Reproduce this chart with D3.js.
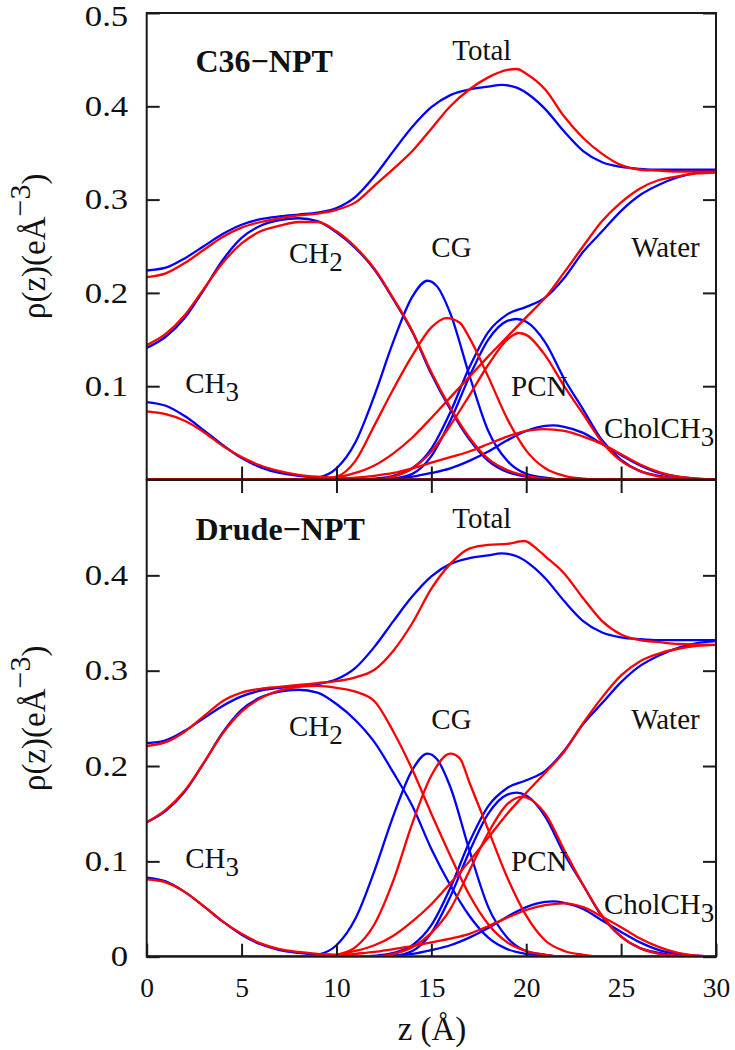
<!DOCTYPE html>
<html>
<head>
<meta charset="utf-8">
<script src="https://cdn.jsdelivr.net/npm/d3@7"></script>
<style>
  html, body { margin: 0; padding: 0; background: #fff; }
  svg { display: block; font-family: "Liberation Serif", "Times New Roman", serif; }
</style>
</head>
<body>
<svg id="chart" width="735" height="1050"></svg>
<script>
// ---------- Data: [z (Å), rho (e/Å^3)] ----------
// Reference curves (blue, identical in both panels)
const blueTotal = [[0,.224],[1,.227],[2,.237],[3,.250],[4,.263],[5,.273],[6,.279],[7,.282],[8,.284],[9,.286],[10,.291],[11,.303],[12,.325],[13,.352],[14,.378],[15,.399],[16,.412],[17,.418],[18,.421],[18.7,.423],[19.5,.420],[20.3,.410],[21,.397],[22,.373],[23,.352],[24,.340],[25,.335],[26,.333],[27,.332],[30,.332]];
const blueCH2 = [[0,.141],[1,.153],[2,.173],[3,.203],[4,.235],[5,.259],[6,.272],[7,.278],[8,.280],[9,.277],[10,.265],[11,.248],[12,.225],[13,.193],[14,.158],[15,.113],[16,.075],[17,.043],[18,.020],[19,.008],[20,.003],[21,.001],[22,0],[30,0]];
const blueCH3 = [[0,.083],[1,.079],[2,.068],[3,.053],[4,.037],[5,.023],[6,.013],[7,.007],[8,.004],[9,.002],[10,.001],[11,0],[30,0]];
const blueCG = [[0,0],[8,0],[9,.002],[10,.012],[11,.040],[12,.090],[13,.148],[14,.196],[14.8,.213],[15.3,.207],[16,.178],[17,.112],[18,.052],[19,.020],[20,.006],[21,.002],[22,0],[30,0]];
const bluePCN = [[0,0],[12,0],[13,.001],[14,.006],[15,.025],[16,.063],[17,.110],[18,.150],[19,.170],[19.5,.172],[20,.169],[21,.147],[22,.108],[23,.075],[24,.042],[25,.021],[26,.009],[27,.004],[28,.001],[29,0],[30,0]];
const blueWater = [[0,0],[11,0],[12,.001],[13,.004],[14,.012],[15,.033],[16,.072],[17,.120],[18,.158],[19,.177],[20,.185],[21,.195],[22,.216],[23,.244],[24,.266],[25,.288],[26,.305],[27,.316],[28,.324],[29,.329],[30,.331]];
const blueChol = [[0,0],[12,0],[13,.001],[14,.003],[15,.007],[16,.012],[17,.020],[18,.030],[19,.042],[20,.052],[21,.0575],[21.4,.058],[22,.0565],[23,.050],[24,.038],[25,.026],[26,.015],[27,.007],[28,.003],[29,.001],[30,0]];

// C36-NPT (red, top panel)
const c36Total = [[0,.217],[1,.221],[2,.232],[3,.246],[4,.260],[5,.270],[6,.276],[7,.280],[8,.283],[9,.285],[10,.289],[11,.297],[12,.315],[13,.333],[14,.352],[15,.376],[16,.400],[17,.418],[18,.431],[19,.439],[19.5,.440],[20,.435],[21,.418],[22,.389],[23,.366],[24,.349],[25,.337],[26,.332],[27,.331],[28,.330],[30,.330]];
const c36CH2 = [[0,.144],[1,.156],[2,.176],[3,.204],[4,.232],[5,.253],[6,.266],[7,.272],[8,.276],[9,.276],[10,.266],[11,.249],[12,.226],[13,.194],[14,.159],[15,.115],[16,.077],[17,.045],[18,.022],[19,.010],[20,.004],[21,.001],[22,0],[30,0]];
const c36CH3 = [[0,.073],[1,.070],[2,.063],[3,.051],[4,.036],[5,.024],[6,.015],[7,.009],[8,.005],[9,.003],[10,.002],[11,.001],[12,0],[30,0]];
const c36CG = [[0,0],[9,0],[10,.003],[11,.020],[12,.058],[13,.097],[14,.133],[15,.163],[15.8,.173],[16.5,.168],[17,.152],[18,.110],[19,.065],[20,.031],[21,.012],[22,.004],[23,.001],[24,0],[30,0]];
const c36PCN = [[0,0],[12,0],[13,.003],[14,.012],[15,.030],[16,.058],[17,.090],[18,.123],[19,.150],[19.6,.157],[20,.155],[21,.133],[22,.100],[23,.070],[24,.040],[25,.020],[26,.009],[27,.003],[28,.001],[29,0],[30,0]];
const c36Water = [[0,0],[9,0],[10,.002],[11,.007],[12,.015],[13,.028],[14,.045],[15,.066],[16,.088],[17,.110],[18,.132],[19,.153],[20,.174],[21,.195],[22,.222],[23,.250],[24,.277],[25,.297],[26,.312],[27,.321],[28,.325],[29,.328],[30,.329]];
const c36Chol = [[0,0],[9,0],[10,.001],[11,.002],[12,.004],[13,.007],[14,.012],[15,.018],[16,.024],[17,.030],[18,.038],[19,.046],[20,.052],[20.9,.054],[22,.052],[23,.046],[24,.038],[25,.027],[26,.016],[27,.008],[28,.003],[29,.001],[30,0]];

// Drude-NPT (red, bottom panel)
const drudeTotal = [[0,.221],[1,.225],[2,.236],[3,.252],[4,.268],[5,.277],[6,.281],[7,.283],[8,.285],[9,.287],[10,.289],[11,.293],[12,.301],[13,.321],[14,.350],[15,.386],[16,.412],[17,.428],[18,.432],[19,.433],[19.9,.436],[20.6,.427],[21,.420],[22,.402],[23,.376],[24,.352],[25,.338],[26,.332],[27,.330],[28,.328],[30,.327]];
const drudeCH2 = [[0,.141],[1,.154],[2,.174],[3,.203],[4,.234],[5,.257],[6,.271],[7,.279],[8,.283],[9,.284],[10,.282],[11,.278],[12,.268],[13,.236],[14,.196],[15,.150],[16,.106],[17,.065],[18,.034],[19,.015],[20,.006],[21,.002],[22,0],[30,0]];
const drudeCH3 = [[0,.081],[1,.078],[2,.068],[3,.053],[4,.037],[5,.024],[6,.014],[7,.008],[8,.005],[9,.003],[10,.002],[11,.001],[12,0],[30,0]];
const drudeCG = [[0,0],[9,0],[10,.002],[11,.010],[12,.034],[13,.080],[14,.140],[15,.190],[16,.213],[16.5,.208],[17,.183],[18,.133],[19,.083],[20,.043],[21,.017],[22,.006],[23,.002],[24,0],[30,0]];
const drudePCN = [[0,0],[12,0],[13,.003],[14,.010],[15,.025],[16,.050],[17,.090],[18,.130],[19,.160],[19.8,.168],[20,.167],[21,.150],[22,.112],[23,.075],[24,.043],[25,.021],[26,.009],[27,.003],[28,.001],[29,0],[30,0]];
const drudeWater = [[0,0],[9,0],[10,.002],[11,.006],[12,.012],[13,.022],[14,.037],[15,.055],[16,.077],[17,.100],[18,.125],[19,.150],[20,.172],[21,.193],[22,.215],[23,.245],[24,.272],[25,.295],[26,.310],[27,.318],[28,.323],[29,.326],[30,.327]];
const drudeChol = [[0,0],[9,0],[10,.001],[11,.003],[12,.005],[13,.008],[14,.011],[15,.015],[16,.019],[17,.024],[18,.032],[19,.041],[20,.049],[21,.054],[22,.056],[23,.052],[24,.042],[25,.031],[26,.019],[27,.010],[28,.004],[29,.001],[30,0]];

// Axes ticks
const xTicks = [0, 5, 10, 15, 20, 25, 30];
const xInnerTicks = [5, 10, 15, 20, 25];
const yTicksTop = [0.1, 0.2, 0.3, 0.4, 0.5];
const yTicksBottom = [0, 0.1, 0.2, 0.3, 0.4];

// Annotation texts (label, subscript, z, rho)
const annotations = [
  {text: "Total", sub: "", z: 16.1, v: 0.4497},
  {text: "CH", sub: "2", z: 7.5, v: 0.232},
  {text: "CG", sub: "", z: 15.0, v: 0.239},
  {text: "Water", sub: "", z: 25.53, v: 0.239},
  {text: "CH", sub: "3", z: 2.03, v: 0.0926},
  {text: "PCN", sub: "", z: 19.2, v: 0.090},
  {text: "CholCH", sub: "3", z: 24.1, v: 0.045}
];

const panels = [
  {title: "C36\u2212NPT", red: [c36Total, c36CH2, c36CH3, c36CG, c36PCN, c36Water, c36Chol], yTicks: yTicksTop, range: [479.5, 13], bottom: false},
  {title: "Drude\u2212NPT", red: [drudeTotal, drudeCH2, drudeCH3, drudeCG, drudePCN, drudeWater, drudeChol], yTicks: yTicksBottom, range: [956.7, 480], bottom: true}
];
const blueSeries = [blueTotal, blueCH2, blueCH3, blueCG, bluePCN, blueWater, blueChol];

// ---------- Drawing ----------
const svg = d3.select("#chart");
const x = d3.scaleLinear().domain([0, 30]).range([146.7, 716]);
const frameColor = "#1a1a1a";
const tickLen = 13;
const fmt = d => d === 0 ? "0" : d3.format(".1f")(d);
const yLabelStretch = 1.22;

panels.forEach(p => {
  const y = d3.scaleLinear().domain([0, 0.5]).range(p.range);
  const g = svg.append("g");

  const line = d3.line().x(d => x(d[0])).y(d => y(d[1])).curve(d3.curveMonotoneX);

  const clipId = "clip" + (p.bottom ? "B" : "T");
  svg.append("clipPath").attr("id", clipId).append("rect")
    .attr("x", x(0)).attr("y", y(0.5) - 2).attr("width", x(30) - x(0)).attr("height", y(0) - y(0.5) + 2);

  const curves = g.append("g").attr("clip-path", `url(#${clipId})`);
  curves.selectAll("path.blue").data(blueSeries).join("path")
    .attr("class", "blue").attr("d", line)
    .attr("fill", "none").attr("stroke", "#0000ff").attr("stroke-width", 2.3).attr("stroke-linejoin", "round");
  curves.selectAll("path.red").data(p.red).join("path")
    .attr("class", "red").attr("d", line)
    .attr("fill", "none").attr("stroke", "#ff0000").attr("stroke-width", 2.3).attr("stroke-linejoin", "round");

  // Left axis with labels
  const left = g.append("g").attr("transform", `translate(${x(0)},0)`)
    .call(d3.axisLeft(y).tickValues(p.yTicks).tickSizeInner(-tickLen).tickSizeOuter(0).tickPadding(18.5).tickFormat(fmt));
  // Right axis ticks
  const right = g.append("g").attr("transform", `translate(${x(30)},0)`)
    .call(d3.axisRight(y).tickValues(p.yTicks).tickSizeInner(-tickLen).tickSizeOuter(0).tickFormat(""));
  // Bottom axis
  const bottom = g.append("g").attr("transform", `translate(0,${y(0)})`)
    .call(d3.axisBottom(x).tickValues(p.bottom ? xTicks : xInnerTicks).tickSizeInner(-tickLen).tickSizeOuter(0).tickPadding(21)
      .tickFormat(p.bottom ? d3.format("d") : ""));
  const axes = [left, right, bottom];
  if (p.bottom) {
    const top = g.append("g").attr("transform", `translate(0,${y(0.5)})`)
      .call(d3.axisTop(x).tickValues(xInnerTicks).tickSizeInner(-tickLen).tickSizeOuter(0).tickFormat(""));
    axes.push(top);
  }
  axes.forEach(a => {
    a.select(".domain").remove();
    a.selectAll(".tick line").attr("stroke", frameColor).attr("stroke-width", 2);
    a.selectAll(".tick text").attr("fill", "#111").style("font-family", "'Liberation Serif', serif").style("font-size", "27.5px");
  });
  // y tick labels: slightly wider glyphs as in the original figure
  left.selectAll(".tick text")
    .style("font-size", "28.5px")
    .attr("x", -18.5 / yLabelStretch)
    .attr("transform", `scale(${yLabelStretch},1)`)
    .attr("dy", d => d === 0.5 ? "0.45em" : "0.32em");

  // Frame
  g.append("rect").attr("x", x(0)).attr("y", y(0.5)).attr("width", x(30) - x(0)).attr("height", y(0) - y(0.5))
    .attr("fill", "none").attr("stroke", frameColor).attr("stroke-width", 2);

  // Title
  g.append("text").attr("x", x(2.57)).attr("y", y(0.437))
    .attr("font-weight", "bold").attr("font-size", 32).attr("fill", "#111").text(p.title);

  // Annotations
  const ann = g.selectAll("text.ann").data(annotations).join("text")
    .attr("class", "ann").attr("x", d => x(d.z)).attr("y", d => y(d.v))
    .attr("font-size", 29).attr("fill", "#111");
  ann.append("tspan").text(d => d.text);
  ann.filter(d => d.sub).append("tspan").attr("dy", 8).attr("font-size", 27).text(d => d.sub);

  // Y axis label
  const yl = g.append("text")
    .attr("transform", `translate(45,${(y(0) + y(0.5)) / 2}) rotate(-90)`)
    .attr("text-anchor", "middle").attr("font-size", 33).attr("fill", "#111");
  yl.append("tspan").text("\u03c1(z)(e\u00c5");
  yl.append("tspan").attr("dy", -15).attr("font-size", 30).text("\u22123");
  yl.append("tspan").attr("dy", 15).text(")");
});

// X axis label
svg.append("text").attr("x", 432).attr("y", 1040).attr("text-anchor", "middle")
  .attr("font-size", 33).attr("fill", "#111").text("z (\u00c5)");
</script>
</body>
</html>
